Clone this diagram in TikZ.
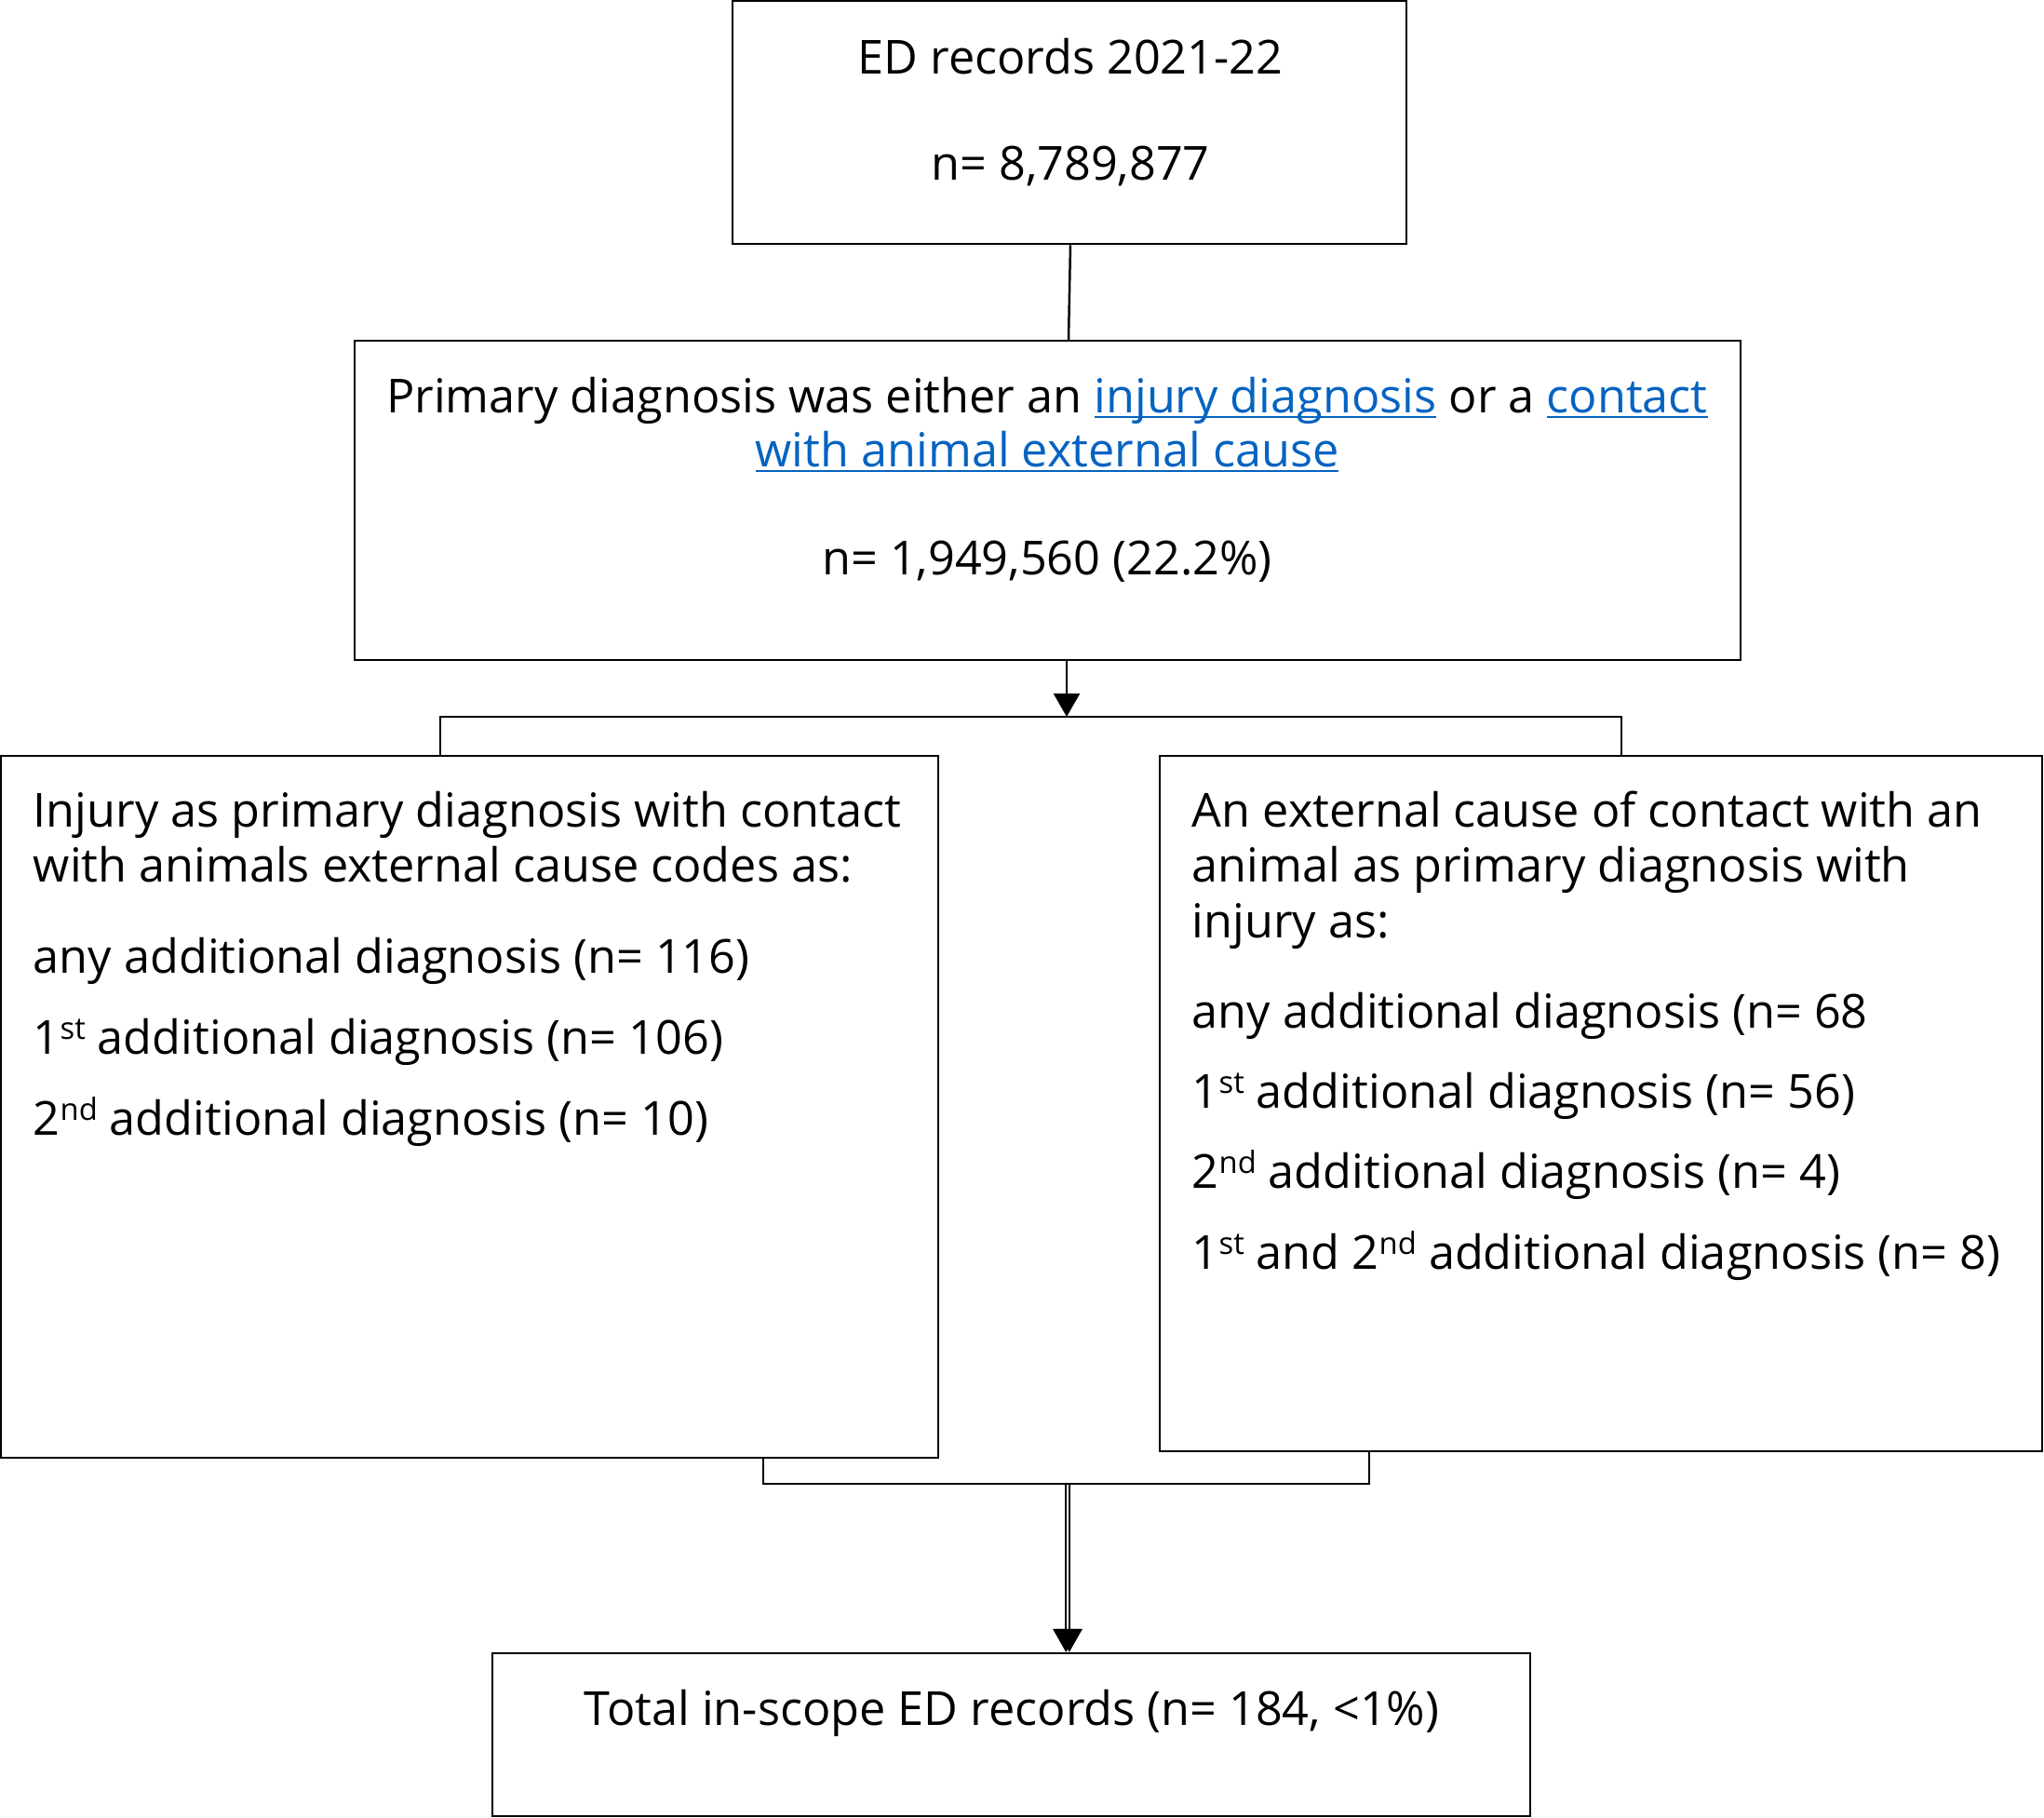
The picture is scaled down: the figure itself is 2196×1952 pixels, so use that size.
\documentclass[tikz,border=0pt]{standalone}
\usepackage{fontspec}
\setmainfont{Open Sans}
\usetikzlibrary{arrows.meta}
\definecolor{linkblue}{RGB}{5,99,193}
\newsavebox{\lnkbox}
\newcommand{\lnk}[1]{{\color{linkblue}\sbox{\lnkbox}{#1}\rlap{\rule[-1.6pt]{\wd\lnkbox}{0.7pt}}\usebox{\lnkbox}}}
\newcommand{\sups}[1]{\raisebox{3.9pt}{\fontsize{8.2}{8}\selectfont #1}}
\tikzset{
  box/.style={draw=black, line width=0.62pt, inner sep=0pt, fill=white},
  txt/.style={inner sep=0pt, font=\fontsize{12.6}{15}\selectfont},
  conn/.style={draw=black, line width=0.62pt},
  tipconn/.style={conn, -{Triangle[length=6.25pt, width=7pt]}},
}
\begin{document}
\begin{tikzpicture}[x=0.25pt, y=-0.25pt]
\useasboundingbox (0,0) rectangle (2196,1952);
% boxes
\node[box, minimum width=181pt, minimum height=65.25pt] (b1) at (1149,131.5) {};
\node[box, minimum width=372.25pt, minimum height=85.75pt] (b2) at (1125.5,537.5) {};
\node[box, minimum width=251.75pt, minimum height=188.5pt] (b3) at (504.5,1189) {};
\node[box, minimum width=237pt, minimum height=186.75pt] (b4) at (1720,1185.5) {};
\node[box, minimum width=278.75pt, minimum height=43.75pt] (b5) at (1086.5,1863.5) {};
% junction coordinates
\coordinate (ja) at (1146,770);
\coordinate (jl) at (473,770);
\coordinate (jr) at (1742,770);
\coordinate (jb) at (1147,1594);
\coordinate (jbl) at (820,1594);
\coordinate (jbr) at (1471,1594);
% texts box 1
\node[txt, anchor=base] (t1a) at (1150,79) {ED records 2021-22};
\node[txt, anchor=base] (t1b) at (1150,193) {n= 8,789,877};
% texts box 2
\node[txt, anchor=base] (t2a) at (1125,443) {Primary diagnosis was either an \lnk{injury diagnosis} or a \lnk{contact}};
\node[txt, anchor=base] (t2b) at (1125,501) {\lnk{with animal external cause}};
\node[txt, anchor=base] (t2c) at (1125,617) {n= 1,949,560 (22.2\%)};
% texts box 3
\node[txt, anchor=base west] (t3a) at (35,888) {Injury as primary diagnosis with contact};
\node[txt, anchor=base west] (t3b) at (35,947) {with animals external cause codes as:};
\node[txt, anchor=base west] (t3c) at (35,1045) {any additional diagnosis (n= 116)};
\node[txt, anchor=base west] (t3d) at (35,1132) {1\sups{st} additional diagnosis (n= 106)};
\node[txt, anchor=base west] (t3e) at (35,1219) {2\sups{nd} additional diagnosis (n= 10)};
% texts box 4
\node[txt, anchor=base west] (t4a) at (1280,888) {An external cause of contact with an};
\node[txt, anchor=base west] (t4b) at (1280,947) {animal as primary diagnosis with};
\node[txt, anchor=base west] (t4c) at (1280,1007) {injury as:};
\node[txt, anchor=base west] (t4d) at (1280,1104) {any additional diagnosis (n= 68};
\node[txt, anchor=base west] (t4e) at (1280,1190) {1\sups{st} additional diagnosis (n= 56)};
\node[txt, anchor=base west] (t4f) at (1280,1276) {2\sups{nd} additional diagnosis (n= 4)};
\node[txt, anchor=base west] (t4g) at (1280,1363) {1\sups{st} and 2\sups{nd} additional diagnosis (n= 8)};
% text box 5
\node[txt, anchor=base] (t5) at (1087,1853) {Total in-scope ED records (n= 184, <1\%)};
% connectors
\draw[conn] (b1.south -| 1150,0) -- (b2.north -| 1148,0);
\draw[tipconn] (b2.south -| ja) -- (ja);
\draw[conn] (b3.north -| jl) -- (jl) -- (jr) -- (b4.north -| jr);
\draw[conn] (b3.south -| jbl) -- (jbl) -- (jbr) -- (b4.south -| jbr);
\draw[tipconn, line width=0.45pt] ([xshift=-0.45pt]jb) -- ([xshift=-0.45pt]b5.north -| jb);
\draw[tipconn, line width=0.45pt] ([xshift=0.45pt]jb) -- ([xshift=0.45pt]b5.north -| jb);
\end{tikzpicture}
\end{document}
